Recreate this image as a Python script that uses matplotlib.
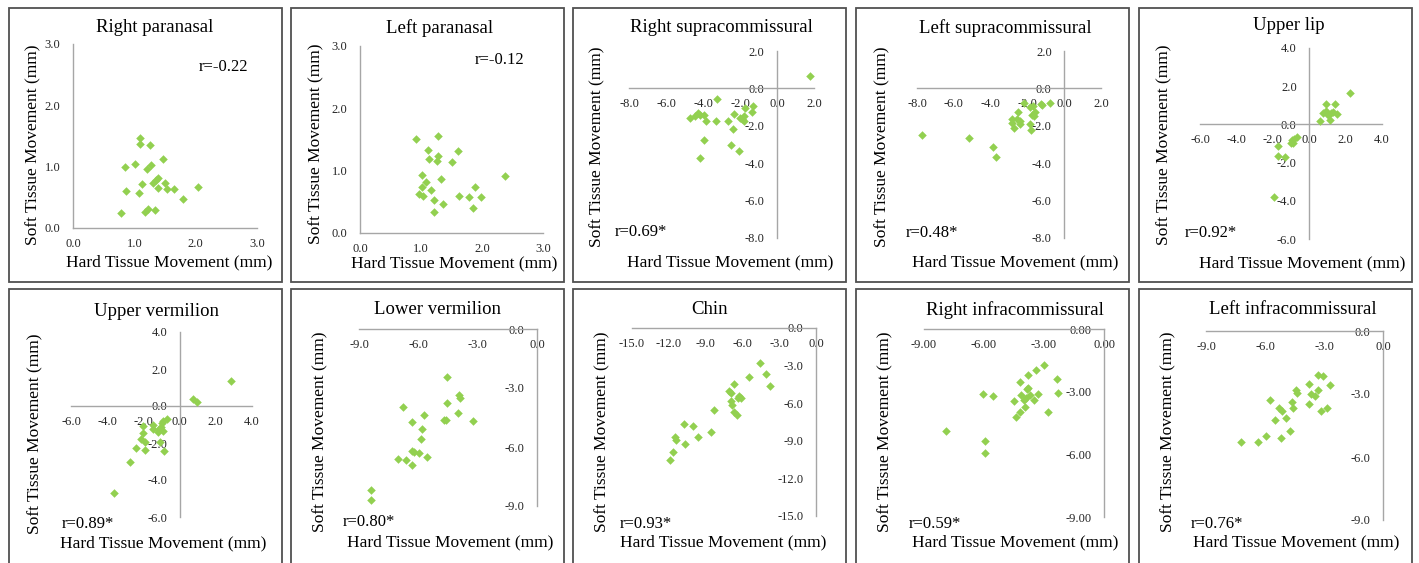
import matplotlib.pyplot as plt
from matplotlib.patches import Rectangle
from matplotlib.ticker import FormatStrFormatter, MultipleLocator

plt.rcParams['font.family'] = ['Liberation Serif', 'DejaVu Serif']

W, H = 1419, 563

titles = ['Right paranasal', 'Left paranasal', 'Right supracommissural',
          'Left supracommissural', 'Upper lip', 'Upper vermilion',
          'Lower vermilion', 'Chin', 'Right infracommissural',
          'Left infracommissural']
r_labels = ['r=-0.22', 'r=-0.12', 'r=0.69*', 'r=0.48*', 'r=0.92*',
            'r=0.89*', 'r=0.80*', 'r=0.93*', 'r=0.59*', 'r=0.76*']

# hard tissue (x) / soft tissue (y) movement, mm
rpn_x = [0.79, 0.86, 0.85, 1.01, 1.08, 1.13, 1.10, 1.10, 1.20, 1.27, 1.26, 1.17,
         1.23, 1.33, 1.30, 1.35, 1.39, 1.38, 1.47, 1.50, 1.54, 1.64, 1.80, 2.03]
rpn_y = [0.24, 0.61, 0.99, 1.05, 0.57, 0.72, 1.47, 1.37, 0.96, 1.02, 1.35, 0.26,
         0.31, 0.29, 0.74, 0.78, 0.81, 0.65, 1.12, 0.74, 0.64, 0.64, 0.47, 0.67]

lpn_x = [0.92, 1.28, 1.11, 1.28, 1.13, 1.26, 1.61, 1.50, 1.01, 1.33, 1.08, 1.01,
         1.16, 0.97, 1.03, 1.21, 1.36, 1.22, 1.63, 1.78, 1.89, 1.99, 1.86, 2.38]
lpn_y = [1.51, 1.55, 1.33, 1.24, 1.18, 1.15, 1.31, 1.14, 0.93, 0.86, 0.82, 0.73,
         0.69, 0.62, 0.60, 0.53, 0.47, 0.34, 0.59, 0.57, 0.74, 0.57, 0.40, 0.91]

rsc_x = [1.81, -3.24, -4.72, -4.41, -4.27, -4.16, -3.96, -3.85, -3.31, -3.92,
         -4.16, -2.66, -2.31, -2.39, -2.51, -2.04, -2.01, -1.90, -1.79, -1.74,
         -1.81, -1.37, -1.30]
rsc_y = [0.64, -0.58, -1.59, -1.45, -1.31, -1.40, -1.42, -1.77, -1.77, -2.78,
         -3.72, -1.72, -1.36, -2.16, -3.03, -3.36, -1.56, -1.66, -1.49, -1.04,
         -1.72, -1.26, -0.92]

lsc_x = [-7.74, -5.16, -3.86, -3.71, -2.86, -2.83, -2.72, -2.50, -2.55, -2.39,
         -2.39, -2.16, -1.85, -1.85, -1.78, -1.76, -1.65, -1.58, -1.67, -1.27,
         -1.18, -0.76]
lsc_y = [-2.50, -2.64, -3.12, -3.65, -1.66, -1.84, -2.14, -1.27, -1.66, -1.75,
         -1.93, -0.78, -1.01, -1.93, -2.23, -1.40, -1.45, -1.27, -0.96, -0.83,
         -0.88, -0.80]

ul_x = [2.24, 0.90, 1.43, 0.75, 0.95, 1.05, 1.21, 1.30, 1.54, 1.12, 0.57, 0.90,
        -0.68, -0.81, -0.95, -1.01, -0.90, -1.72, -1.71, -1.34, -1.93]
ul_y = [1.66, 1.05, 1.05, 0.58, 0.66, 0.49, 0.58, 0.66, 0.52, 0.23, 0.19, 0.70,
        -0.66, -0.79, -0.82, -0.96, -0.99, -1.15, -1.64, -1.69, -3.79]

uv_x = [2.83, 0.72, 0.94, -0.72, -0.90, -0.99, -1.45, -1.01, -1.16, -1.45, -0.94,
        -1.21, -2.00, -2.00, -2.13, -1.91, -1.06, -0.84, -1.91, -2.42, -2.72, -3.65]
uv_y = [1.34, 0.38, 0.21, -0.71, -0.82, -0.91, -1.00, -1.13, -1.25, -1.25, -1.36,
        -1.39, -1.09, -1.45, -1.80, -1.93, -1.93, -2.41, -2.36, -2.29, -3.02, -4.68]

lv_x = [-4.55, -3.95, -3.88, -4.57, -6.78, -4.00, -5.72, -4.70, -4.62, -3.24,
        -6.31, -5.83, -5.85, -6.32, -6.21, -5.95, -7.03, -6.63, -5.56, -6.32,
        -8.41, -8.41]
lv_y = [-2.44, -3.34, -3.51, -3.78, -3.95, -4.29, -4.36, -4.63, -4.63, -4.68,
        -4.71, -5.07, -5.59, -6.19, -6.24, -6.29, -6.63, -6.68, -6.53, -6.93,
        -8.19, -8.69]

chin_x = [-4.60, -4.06, -3.73, -5.50, -6.70, -7.06, -6.89, -6.27, -6.10, -6.32,
          -6.89, -6.81, -6.65, -6.43, -8.28, -8.53, -10.00, -10.74, -9.65, -10.65,
          -11.47, -11.42, -11.69, -11.93]
chin_y = [-2.83, -3.65, -4.61, -3.92, -4.45, -5.01, -5.20, -5.39, -5.60, -5.55,
          -5.81, -6.13, -6.67, -6.93, -6.56, -8.32, -7.84, -7.68, -8.69, -9.25,
          -8.67, -8.93, -9.92, -10.53]

ric_x = [-3.00, -3.38, -3.80, -2.37, -4.18, -3.82, -3.83, -6.03, -5.53, -4.15,
         -3.68, -3.28, -2.32, -3.90, -4.02, -4.50, -3.48, -3.95, -4.22, -2.78,
         -4.40, -7.88, -5.95, -5.95]
ric_y = [-1.72, -1.95, -2.19, -2.38, -2.55, -2.81, -2.87, -3.11, -3.21, -3.17,
         -3.14, -3.09, -3.06, -3.32, -3.40, -3.43, -3.41, -3.75, -3.96, -3.97,
         -4.21, -4.88, -5.37, -5.93]

lic_x = [-3.31, -3.05, -3.76, -2.68, -4.42, -4.36, -3.66, -3.44, -3.32, -5.76,
         -4.63, -3.78, -5.31, -5.12, -4.56, -3.17, -2.83, -4.95, -5.47, -4.75,
         -5.93, -5.19, -6.37, -7.24]
lic_y = [-2.08, -2.14, -2.54, -2.59, -2.83, -2.95, -2.98, -3.10, -2.79, -3.30,
         -3.38, -3.49, -3.67, -3.79, -3.65, -3.81, -3.68, -4.14, -4.24, -4.78,
         -5.00, -5.08, -5.30, -5.30]

xs = [rpn_x, lpn_x, rsc_x, lsc_x, ul_x, uv_x, lv_x, chin_x, ric_x, lic_x]
ys = [rpn_y, lpn_y, rsc_y, lsc_y, ul_y, uv_y, lv_y, chin_y, ric_y, lic_y]

# axis ranges (lo, hi, step) and tick decimals
ranges = [(0, 3, 1), (0, 3, 1), (-8, 2, 2), (-8, 2, 2), (-6, 4, 2),
          (-6, 4, 2), (-9, 0, 3), (-15, 0, 3), (-9, 0, 3), (-9, 0, 3)]
decimals = [1, 1, 1, 1, 1, 1, 1, 1, 2, 1]

# layout in pixels: plot box (left, top, right, bottom)
boxes = [(73, 44, 257, 228), (360, 46, 543, 233), (629, 51, 814, 238),
         (917, 51, 1101, 238), (1200, 48, 1382, 239), (71, 332, 252, 517),
         (359, 329, 537, 506), (632, 328, 816, 516), (924, 329, 1104, 517),
         (1206, 331, 1383, 520)]
title_pos = [(155, 27), (440, 28), (721, 28), (1005, 28), (1289, 26),
             (157, 311), (437, 310), (710, 310), (1015, 310), (1293, 310)]
xlab_pos = [(169, 262), (454, 263), (730, 262), (1015, 262), (1302, 263),
            (163, 543), (450, 542), (723, 542), (1015, 542), (1296, 542)]
ylab_pos = [(33, 145), (316, 144), (597, 147), (882, 147), (1164, 145),
            (35, 434), (320, 432), (602, 432), (885, 432), (1168, 432)]
r_pos = [(223, 67, 'center'), (500, 60, 'center'), (615, 232, 'left'),
         (906, 233, 'left'), (1185, 233, 'left'), (62, 524, 'left'),
         (343, 522, 'left'), (620, 524, 'left'), (909, 524, 'left'),
         (1191, 524, 'left')]
frame_x = [9, 291, 573, 856, 1139]
frame_y = [(8, 282), (289, 580)]

fig = plt.figure(figsize=(W / 100, H / 100), dpi=100)


def fx(x):
    return x / W


def fy(y):
    return 1 - y / H


for i in range(10):
    col, row = i % 5, i // 5
    y0, y1 = frame_y[row]
    fig.patches.append(Rectangle((fx(frame_x[col]), fy(y1)), 273 / W, (y1 - y0) / H,
                                 transform=fig.transFigure, fill=False,
                                 edgecolor='#505050', linewidth=1.3))

    l, t, r, b = boxes[i]
    ax = fig.add_axes([fx(l), fy(b), (r - l) / W, (b - t) / H])
    lo, hi, step = ranges[i]
    ax.scatter(xs[i], ys[i], marker='D', s=19, color='#92d050', linewidths=0, zorder=3)
    ax.set_xlim(lo, hi)
    ax.set_ylim(lo, hi)
    ax.xaxis.set_major_locator(MultipleLocator(step))
    ax.yaxis.set_major_locator(MultipleLocator(step))
    fmt = FormatStrFormatter('%.' + str(decimals[i]) + 'f')
    ax.xaxis.set_major_formatter(fmt)
    ax.yaxis.set_major_formatter(fmt)
    ax.patch.set_visible(False)
    for s in ['top', 'right']:
        ax.spines[s].set_visible(False)
    for s in ['left', 'bottom']:
        ax.spines[s].set_position(('data', 0))
        ax.spines[s].set_color('#a6a6a6')
        ax.spines[s].set_linewidth(1.0)
    ax.tick_params(axis='x', length=0, pad=7, labelsize=9, colors='#262626')
    ax.tick_params(axis='y', length=0, pad=9, labelsize=9, colors='#262626')

    fig.text(fx(title_pos[i][0]), fy(title_pos[i][1]), titles[i], fontsize=13.5,
             ha='center', va='center')
    fig.text(fx(xlab_pos[i][0]), fy(xlab_pos[i][1]), 'Hard Tissue Movement (mm)',
             fontsize=12.5, ha='center', va='center')
    fig.text(fx(ylab_pos[i][0]), fy(ylab_pos[i][1]), 'Soft Tissue Movement (mm)',
             fontsize=12.5, ha='center', va='center', rotation=90)
    rx, ry, ha = r_pos[i]
    fig.text(fx(rx), fy(ry), r_labels[i], fontsize=12, ha=ha, va='center')

fig.savefig('out.png', dpi=100)
